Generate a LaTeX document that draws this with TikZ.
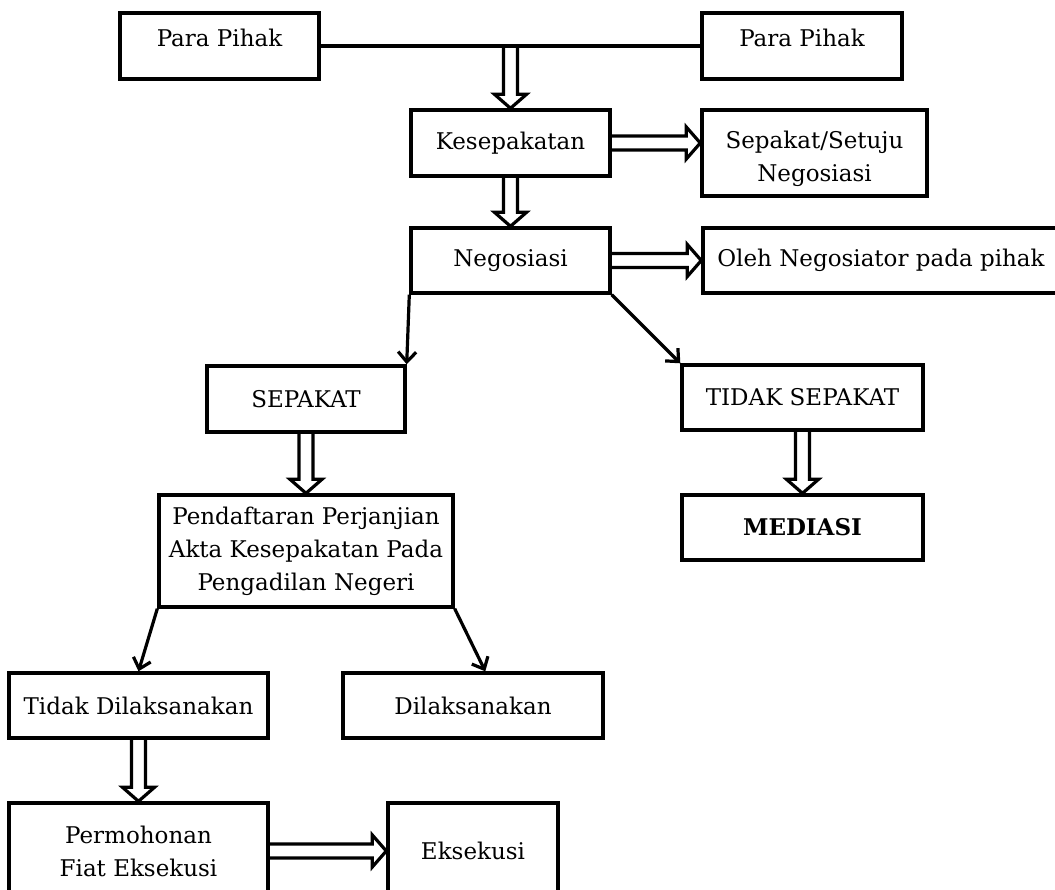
\documentclass[tikz,border=0pt]{standalone}
\usepackage{fontspec}
\setmainfont{DejaVu Serif}
\usetikzlibrary{arrows.meta,calc}
\tikzset{
  box/.style={draw, line width=3.4pt, inner sep=0pt, align=center, font=\fontsize{23}{33}\selectfont},
  blk/.style={draw, line width=3.2pt, line join=miter},
  conn/.style={draw, line width=3.2pt, -{Straight Barb[length=10pt,width=18pt,line width=3.2pt]}},
}
\newcommand\darrow[2]{\draw[blk] let \p1=(#1), \p2=(#2) in (\x2-7pt,\y1) -- (\x2-7pt,\y2+14pt) -- (\x2-16pt,\y2+14pt) -- (\x2,\y2) -- (\x2+16pt,\y2+14pt) -- (\x2+7pt,\y2+14pt) -- (\x2+7pt,\y1);}
\newcommand\rarrow[2]{\draw[blk] let \p1=(#1), \p2=(#2) in (\x1,\y2+7pt) -- (\x2-14pt,\y2+7pt) -- (\x2-14pt,\y2+16pt) -- (\x2,\y2) -- (\x2-14pt,\y2-16pt) -- (\x2-14pt,\y2-7pt) -- (\x1,\y2-7pt);}
\begin{document}
\begin{tikzpicture}[x=1pt,y=-1pt]
\useasboundingbox (0,0) rectangle (1055,890);
\node[box, minimum width=199, minimum height=66] (pp1) at (219.5,46) {\rule[-17pt]{0pt}{17pt}Para Pihak};
\node[box, minimum width=200, minimum height=66] (pp2) at (802,46) {\rule[-17pt]{0pt}{17pt}Para Pihak};
\node[box, minimum width=199, minimum height=66] (kes) at (510.5,143) {Kesepakatan};
\node[box, minimum width=225, minimum height=86] (sst) at (814.5,153) {\rule{0pt}{29pt}Sepakat/Setuju\\Negosiasi};
\node[box, minimum width=199, minimum height=65] (neg) at (510.5,260.5) {Negosiasi};
\node[box, minimum width=356, minimum height=65] (oleh) at (881,260.5) {Oleh Negosiator pada pihak};
\node[box, minimum width=198, minimum height=66] (sep) at (306,399) {SEPAKAT};
\node[box, minimum width=241, minimum height=65] (tsep) at (802.5,397.5) {TIDAK SEPAKAT};
\node[box, minimum width=241, minimum height=65] (med) at (802.5,527.5) {\bfseries MEDIASI};
\node[box, minimum width=294, minimum height=112] (pend) at (306,551) {Pendaftaran Perjanjian\\Akta Kesepakatan Pada\\Pengadilan Negeri};
\node[box, minimum width=259, minimum height=65] (tdl) at (138.5,705.5) {Tidak Dilaksanakan};
\node[box, minimum width=260, minimum height=65] (dl) at (473,705.5) {Dilaksanakan};
\node[box, minimum width=259, minimum height=96] (perm) at (138.5,851) {Permohonan\\Fiat Eksekusi};
\node[box, minimum width=170, minimum height=96] (eks) at (473,851) {Eksekusi};
\coordinate (dltip) at ($(dl.north west)+(144,0)$);
% connectors
\draw[line width=3.2pt] (pp1) -- (pp2);
\darrow{$(pp1.east)!(kes.north)!(pp2.west)$}{kes.north}
\rarrow{kes.east}{kes.east -| sst.west}
\darrow{kes.south}{neg.north}
\rarrow{neg.east}{neg.east -| oleh.west}
\draw[conn] (neg.south west) -- (sep.north east);
\draw[conn] (neg.south east) -- (tsep.north west);
\darrow{sep.south}{pend.north}
\darrow{tsep.south}{med.north}
\draw[conn] (pend.south west) -- (tdl.north);
\draw[conn] (pend.south east) -- (dltip);
\darrow{tdl.south}{perm.north}
\rarrow{perm.east}{perm.east -| eks.west}
\end{tikzpicture}
\end{document}
